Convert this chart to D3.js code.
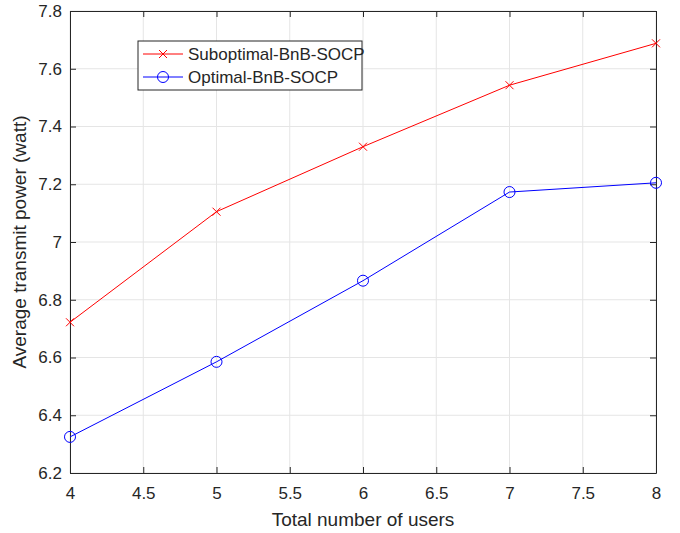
<!DOCTYPE html>
<html>
<head>
<meta charset="utf-8">
<script src="https://cdn.jsdelivr.net/npm/d3@7"></script>
<style>
    body { margin: 0; background: #fff; }
    text { font-family: "Liberation Sans", Arial, sans-serif; fill: #262626; }
</style>
</head>
<body>
<div id="chart"></div>
<script>
// chart data
const users = [4, 5, 6, 7, 8];
const suboptimal = [6.722, 7.105, 7.330, 7.543, 7.688];
const optimal = [6.325, 6.585, 6.866, 7.173, 7.205];
const xTicks = [4, 4.5, 5, 5.5, 6, 6.5, 7, 7.5, 8];
const yTicks = [6.2, 6.4, 6.6, 6.8, 7, 7.2, 7.4, 7.6, 7.8];
const seriesNames = ["Suboptimal-BnB-SOCP", "Optimal-BnB-SOCP"];

const W = 680, H = 533;
const margin = { top: 11, right: 24, bottom: 60, left: 70 };
const width = W - margin.left - margin.right,
    height = H - margin.top - margin.bottom;

const svg = d3.select("#chart").append("svg")
    .attr("width", W)
    .attr("height", H);

const g = svg.append("g")
    .attr("transform", "translate(" + margin.left + "," + margin.top + ")");

const x = d3.scaleLinear().domain([4, 8]).range([0, width]);
const y = d3.scaleLinear().domain([6.2, 7.8]).range([height, 0]);

// grid
g.append("g").selectAll("line")
    .data(xTicks)
    .enter().append("line")
    .attr("x1", d => x(d)).attr("x2", d => x(d))
    .attr("y1", 0).attr("y2", height)
    .attr("stroke", "#e5e5e5");

g.append("g").selectAll("line")
    .data(yTicks)
    .enter().append("line")
    .attr("y1", d => y(d)).attr("y2", d => y(d))
    .attr("x1", 0).attr("x2", width)
    .attr("stroke", "#e5e5e5");

// axes, ticks pointing inward like matlab
const fmt = d => d3.format("")(d);
const tickLen = 6;

const xAxis = g.append("g")
    .attr("transform", "translate(0," + height + ")")
    .call(d3.axisBottom(x).tickValues(xTicks).tickFormat(fmt).tickSizeInner(-tickLen).tickSizeOuter(0).tickPadding(14));
const yAxis = g.append("g")
    .call(d3.axisLeft(y).tickValues(yTicks).tickFormat(fmt).tickSizeInner(-tickLen).tickSizeOuter(0).tickPadding(8));
const xTop = g.append("g")
    .call(d3.axisTop(x).tickValues(xTicks).tickFormat("").tickSizeInner(-tickLen).tickSizeOuter(0));
const yRight = g.append("g")
    .attr("transform", "translate(" + width + ",0)")
    .call(d3.axisRight(y).tickValues(yTicks).tickFormat("").tickSizeInner(-tickLen).tickSizeOuter(0));

[xAxis, yAxis, xTop, yRight].forEach(a => {
    a.select(".domain").attr("stroke", "#262626");
    a.selectAll(".tick line").attr("stroke", "#262626");
    a.selectAll("text")
        .attr("font-size", "17px")
        .attr("font-family", "Liberation Sans, Arial, sans-serif")
        .attr("fill", "#262626");
});

// axis labels
g.append("text")
    .attr("x", width / 2)
    .attr("y", height + 53)
    .attr("text-anchor", "middle")
    .attr("font-size", "19px")
    .text("Total number of users");

g.append("text")
    .attr("transform", "rotate(-90)")
    .attr("x", -height / 2)
    .attr("y", -margin.left + 26)
    .attr("text-anchor", "middle")
    .attr("font-size", "19px")
    .text("Average transmit power (watt)");

// lines
const line = d3.line()
    .x((d, i) => x(users[i]))
    .y(d => y(d));

g.append("path")
    .datum(suboptimal)
    .attr("fill", "none")
    .attr("stroke", "#ff0000")
    .attr("stroke-width", 1)
    .attr("d", line);

g.append("path")
    .datum(optimal)
    .attr("fill", "none")
    .attr("stroke", "#0000ff")
    .attr("stroke-width", 1)
    .attr("d", line);

// markers
const cross = (sel, s) => sel.append("path")
    .attr("d", "M" + (-s) + "," + (-s) + "L" + s + "," + s + "M" + (-s) + "," + s + "L" + s + "," + (-s))
    .attr("stroke", "#ff0000")
    .attr("fill", "none");

g.append("g").selectAll("g")
    .data(suboptimal)
    .enter().append("g")
    .attr("transform", (d, i) => "translate(" + x(users[i]) + "," + y(d) + ")")
    .each(function () { cross(d3.select(this), 4); });

g.append("g").selectAll("circle")
    .data(optimal)
    .enter().append("circle")
    .attr("cx", (d, i) => x(users[i]))
    .attr("cy", d => y(d))
    .attr("r", 5.5)
    .attr("fill", "none")
    .attr("stroke", "#0000ff");

// legend
const legend = g.append("g")
    .attr("transform", "translate(" + (138 - margin.left) + "," + (41 - margin.top) + ")");

legend.append("rect")
    .attr("width", 224)
    .attr("height", 49)
    .attr("fill", "#fff")
    .attr("stroke", "#262626");

const colors = ["#ff0000", "#0000ff"];
seriesNames.forEach((name, i) => {
    const row = legend.append("g")
        .attr("transform", "translate(0," + (13 + i * 23) + ")");
    row.append("line")
        .attr("x1", 5).attr("x2", 45)
        .attr("stroke", colors[i]);
    if (i === 0) {
        row.append("g").attr("transform", "translate(25,0)")
            .call(sel => cross(sel, 4));
    } else {
        row.append("circle")
            .attr("cx", 25).attr("r", 5.5)
            .attr("fill", "none").attr("stroke", colors[i]);
    }
    row.append("text")
        .attr("x", 50)
        .attr("dy", "0.35em")
        .attr("font-size", "17px")
        .text(name);
});
</script>
</body>
</html>
